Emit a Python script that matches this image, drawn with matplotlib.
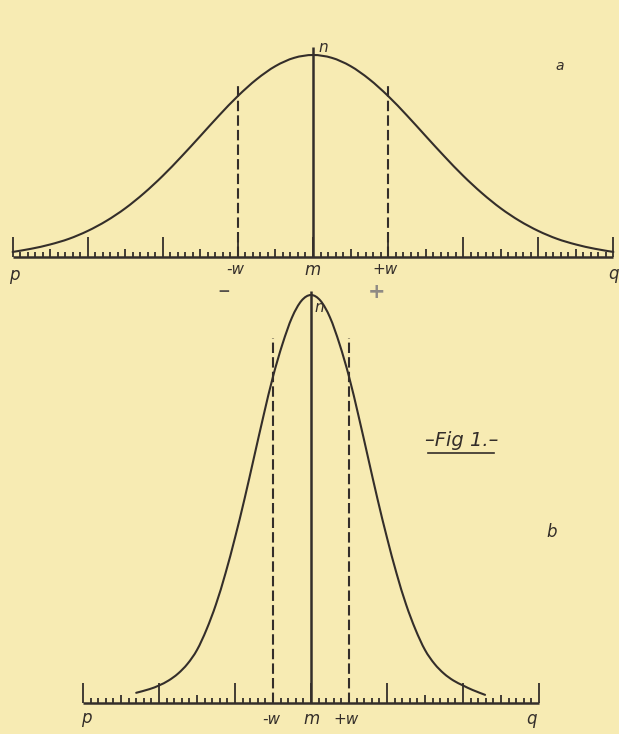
import numpy as np
import matplotlib
matplotlib.use("Agg")
import matplotlib.pyplot as plt
from matplotlib.lines import Line2D
from matplotlib.path import Path
from matplotlib.patches import PathPatch

# ---------------- data ----------------
# curve a : abscissa in scale divisions (w = 1 division), ordinate in % of the maximum n
top_x = [-4.0, -3.75, -3.5, -3.25, -3.0, -2.75, -2.5, -2.25, -2.0, -1.75, -1.5, -1.25,
         -1.0, -0.75, -0.5, -0.25, 0.0, 0.25, 0.5, 0.75, 1.0, 1.25, 1.5, 1.75, 2.0,
         2.25, 2.5, 2.75, 3.0, 3.25, 3.5, 3.75, 4.0]
top_h = [2.5, 4.1, 6.2, 9.0, 12.9, 17.9, 24.1, 31.6, 40.2, 49.8, 59.9, 70.1,
         79.7, 88.0, 94.5, 98.6, 100.0, 98.6, 94.5, 88.0, 79.7, 70.1, 59.9, 49.8, 40.2,
         31.6, 24.1, 17.9, 12.9, 9.0, 6.2, 4.1, 2.5]
top_w = 1.0

# curve b : same scale divisions (w = 1/2 division)
bot_x = [-2.3, -2.125, -2.0, -1.875, -1.75, -1.625, -1.5, -1.375, -1.25, -1.125, -1.0,
         -0.875, -0.75, -0.625, -0.5, -0.375, -0.25, -0.125, 0.0, 0.125, 0.25, 0.375,
         0.5, 0.625, 0.75, 0.875, 1.0, 1.125, 1.25, 1.375, 1.5, 1.625, 1.75, 1.875,
         2.0, 2.125, 2.29]
bot_h = [2.5, 3.4, 4.3, 5.5, 7.2, 9.6, 13.0, 18.0, 24.2, 31.8, 40.5,
         50.0, 60.2, 70.4, 80.0, 88.0, 94.5, 98.6, 100.0, 98.6, 94.5, 88.0,
         80.0, 70.4, 60.2, 50.0, 40.5, 31.8, 24.2, 18.0, 13.0, 9.6, 7.2, 5.5,
         4.3, 3.2, 2.0]
bot_w = 0.5

top_range = (-4, 4)
bot_range = (-3, 3)

# ---------------- figure ----------------
W, H = 619, 734
BG = "#F7EBB3"
INK = "#342e2a"
fig = plt.figure(figsize=(W / 100, H / 100), dpi=100, facecolor=BG)


def make_axes(x0_px, px_per_unit, base_px, px_per_pct):
    ax = fig.add_axes([0, 0, 1, 1])
    ax.set_xlim((0 - x0_px) / px_per_unit, (W - x0_px) / px_per_unit)
    ax.set_ylim((base_px - H) / px_per_pct, base_px / px_per_pct)
    ax.axis("off")
    ax.patch.set_alpha(0)
    return ax


def smooth_path(ax, xs, hs):
    """Smooth curve through the read points (Catmull-Rom drawn as Bezier segments)."""
    xs = np.asarray(xs, float)
    hs = np.asarray(hs, float)
    pts = ax.transData.transform(np.column_stack([xs, hs]))
    verts = [pts[0]]
    codes = [Path.MOVETO]
    n = len(pts)
    for i in range(n - 1):
        p0 = pts[i - 1] if i > 0 else pts[i]
        p1 = pts[i]
        p2 = pts[i + 1]
        p3 = pts[i + 2] if i + 2 < n else pts[i + 1]
        c1 = p1 + (p2 - p0) / 6.0
        c2 = p2 - (p3 - p1) / 6.0
        verts += [c1, c2, p2]
        codes += [Path.CURVE4] * 3
    verts = ax.transData.inverted().transform(np.array(verts))
    ax.add_patch(PathPatch(Path(verts, codes), fill=False, edgecolor=INK, lw=1.5,
                           joinstyle="round", capstyle="round"))


def draw_scale(ax, rng, major_h, mid_h, minor_h, w, m_top, dash_top, xs, hs):
    lo, hi = rng
    minor = np.arange(lo * 10, hi * 10 + 1) / 10.0
    kinds = [(major_h if abs(v - round(v)) < 1e-6 else
              mid_h if abs(v * 2 - round(v * 2)) < 1e-6 else minor_h) for v in minor]
    ax.plot([lo, hi], [0, 0], color=INK, lw=1.8, solid_capstyle="butt")
    ax.vlines(minor, 0, kinds, color=INK, lw=1.3)
    ax.vlines([0], 0, m_top, color=INK, lw=1.8)
    for s in (-w, w):
        ax.plot([s, s], [0, dash_top], color=INK, lw=1.5, dashes=(5.0, 2.0))
    smooth_path(ax, xs, hs)


def ftext(x, y, s, size=10, color=INK, **kw):
    fig.text(x / W, 1 - y / H, s, fontsize=size, color=color, ha="center", va="center",
             fontstyle="italic", family="DejaVu Sans", **kw)


# ---- curve a ----
ax_a = make_axes(313, 75.1, 257, 2.02)
draw_scale(ax_a, top_range, 9.9, 4.0, 2.5, top_w, 104, 85, top_x, top_h)

# ---- curve b ----
ax_b = make_axes(311, 76.0, 703, 4.08)
draw_scale(ax_b, bot_range, 4.9, 2.0, 1.25, bot_w, 101, 89.5, bot_x, bot_h)

# ---- labels ----
ftext(14, 275, "p", 12)
ftext(235, 270, "-w", 11)
ftext(313, 270, "m", 12)
ftext(385, 270, "+w", 11)
ftext(613, 274, "q", 12)
ftext(323, 48, "n", 11)
ftext(560, 66, "a", 10)

ftext(86, 718, "p", 12)
ftext(271, 719, "-w", 11)
ftext(312, 719, "m", 12)
ftext(346, 719, "+w", 11)
ftext(531, 719, "q", 12)
ftext(319, 307, "n", 11)
ftext(552, 532, "b", 12)

ftext(462, 440, "\u2013Fig 1.\u2013", 14)
fig.add_artist(Line2D([428 / W, 494 / W], [1 - 453 / H, 1 - 453 / H],
                      color=INK, lw=1.2, transform=fig.transFigure))

# pencil marks under the top scale
ftext(224, 291, "\u2212", 11, color="#55504a", fontweight="bold")
ftext(377, 292, "+", 15, color="#8f8a84", fontweight="bold")

fig.savefig("out.png", dpi=100, facecolor=BG)
